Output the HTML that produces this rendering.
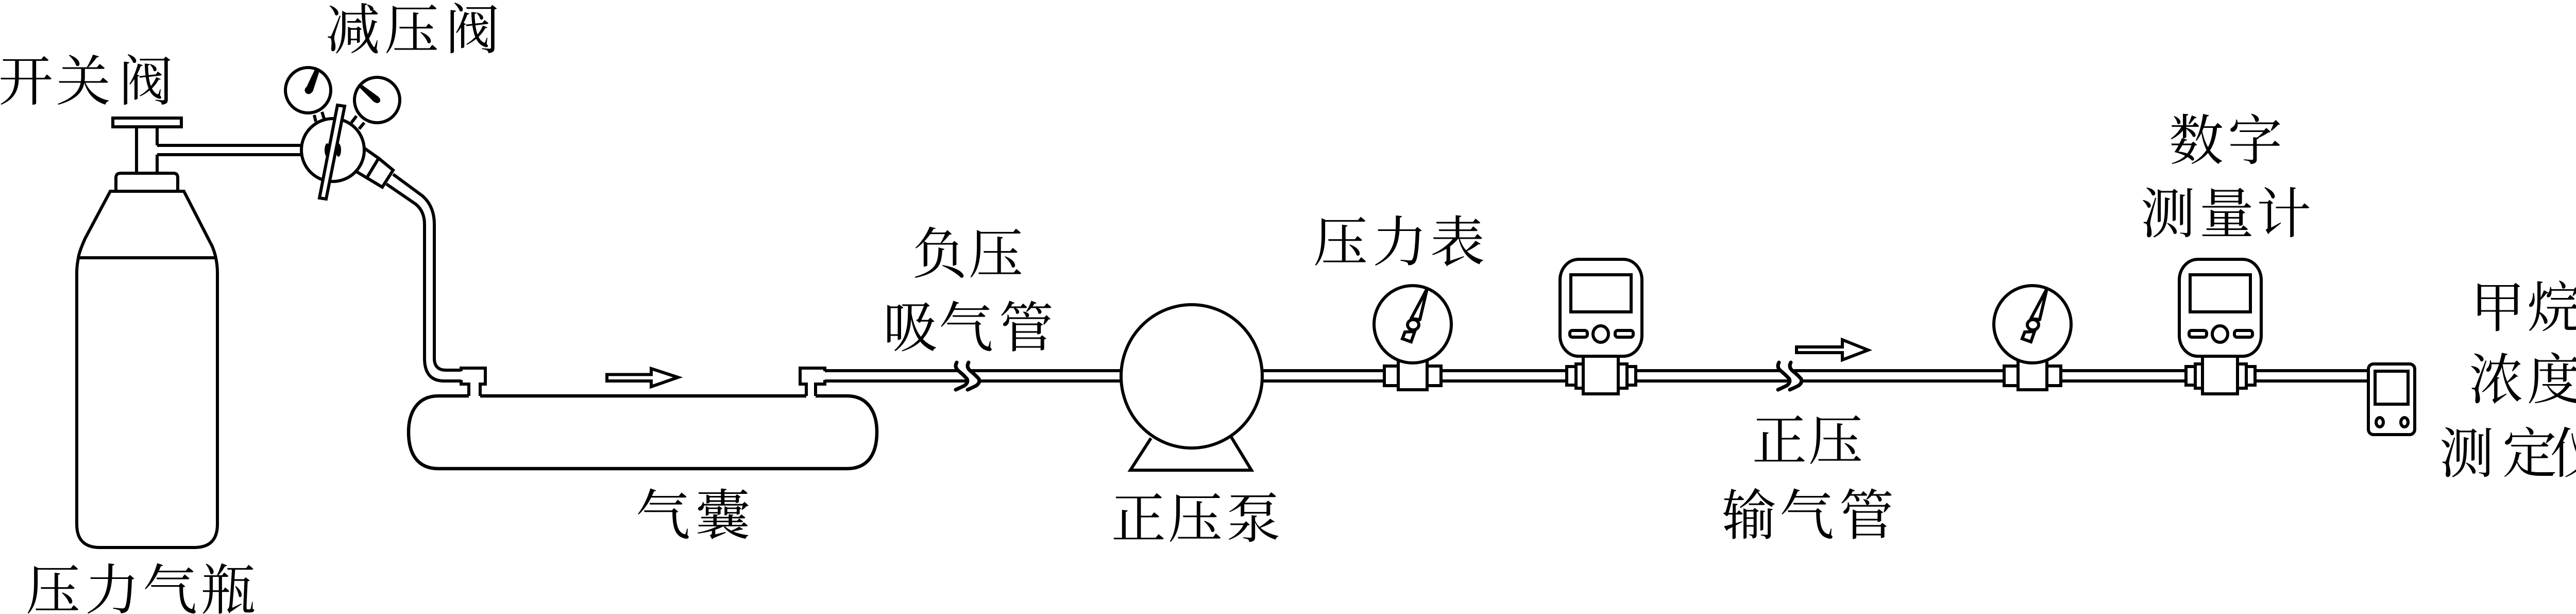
<!DOCTYPE html>
<html lang="zh">
<head>
<meta charset="utf-8">
<title>气路示意图</title>
<style>
html,body{margin:0;padding:0;background:#fff;}
svg{display:block;}
text{font-family:"Liberation Serif","Noto Serif CJK SC",serif;font-size:106px;fill:#000;}
.s{fill:none;stroke:#000;stroke-width:6;}
.w{fill:#fff;stroke:#000;stroke-width:6;}
.b{fill:#000;stroke:none;}
</style>
</head>
<body>
<svg xmlns="http://www.w3.org/2000/svg" width="5057" height="1191" viewBox="0 0 5057 1191">
<rect width="5057" height="1191" fill="#fff"/>

<defs>
<g id="gauge">
  <rect class="w" x="2687" y="710" width="110" height="38"/>
  <rect class="w" x="2714" y="695" width="56" height="61"/>
  <ellipse class="w" cx="2742" cy="629" rx="75" ry="75"/>
  <polygon class="w" stroke-linejoin="round" points="2770,560 2739,618 2756,620"/>
  <polygon class="w" points="2727,644 2722,657 2739,663 2746,643"/>
  <ellipse class="w" cx="2743" cy="630" rx="11" ry="10"/>
</g>
<g id="meter">
  <rect class="w" x="3041" y="711" width="134" height="36"/>
  <rect class="w" x="3059" y="706" width="99" height="47"/>
  <rect class="w" x="3073" y="688" width="68" height="76"/>
  <rect class="w" x="3028" y="503" width="159" height="188" rx="36" ry="40"/>
  <rect class="w" x="3049" y="533" width="117" height="72"/>
  <rect class="w" x="3047" y="641" width="34" height="13" rx="5"/>
  <ellipse class="w" cx="3107" cy="648" rx="15" ry="16"/>
  <rect class="w" x="3135" y="641" width="35" height="13" rx="5"/>
</g>
<g id="brk">
  <polygon fill="#fff" points="1856,712 1879,712 1902,737 1879,757 1856,757 1878,737"/>
  <path class="s" style="stroke-width:7" stroke-linecap="round" d="M1857 703 Q1852 712 1860 719 Q1870 727 1877 735 Q1880 742 1872 748 Q1864 752 1855 756"/>
  <path class="s" style="stroke-width:7" stroke-linecap="round" d="M1880 703 Q1875 712 1883 719 Q1893 727 1900 735 Q1903 742 1895 748 Q1887 752 1878 756"/>
</g>
</defs>

<!-- cylinder -->
<path class="s" d="M265 249V335M305 249V282M305 300V335"/>
<path class="s" d="M305 282H590M305 300H590"/>
<rect class="w" x="219" y="229" width="133" height="17"/>
<path class="s" d="M225 371V345Q225 336 234 336H337Q345 336 345 345V371"/>
<path class="s" d="M214 371L165 463Q153 490 152 501Q149 515 149 530V1017Q149 1062 194 1062H377Q422 1062 422 1017V530Q422 515 419 501Q417 490 412 478L357 371Z"/>
<path class="s" d="M152 500H419"/>

<!-- reducing valve -->
<path class="s" d="M610 223L613 236M625 217L629 230"/>
<path class="s" d="M692 225L682 238M707 238L697 250"/>
<circle class="w" cx="598" cy="175" r="44"/>
<circle class="w" cx="732" cy="194" r="44"/>
<polygon class="b" points="611,135 620,138 607,178 592,175"/>
<circle class="b" cx="599" cy="175" r="7.5"/>
<polygon class="b" points="702,164 735,188 738,198 726,198 698,170"/>
<circle class="b" cx="732" cy="194" r="6"/>
<path class="s" d="M763 338L820 380Q843 400 843 435V695Q843 718 866 718H895"/>
<path class="s" d="M750 357L807 396Q824 410 824 435V695Q824 739 862 739H895"/>
<polygon class="w" points="708,288 735,307 712,345 692,333"/>
<polygon class="w" points="735,307 763,330 742,363 712,345"/>
<circle class="w" cx="646" cy="291" r="61"/>
<ellipse class="b" cx="635" cy="291" rx="5" ry="13"/>
<ellipse class="b" cx="657" cy="291" rx="5" ry="13"/>
<polygon class="w" points="655,204 669,206 633,386 620,384"/>

<!-- gas bag -->
<path class="s" style="stroke-width:6.5" d="M910 768H851C810 768 793 800 793 838C793 880 810 909 851 909H1644C1685 909 1702 880 1702 838C1702 800 1685 768 1644 768H1583M1565 768H932"/>
<path class="s" d="M910 768V745H895V737M895 720V714H942V745H932V768"/>
<path class="s" d="M1565 768V745H1553V714H1601V720M1601 737V745H1583V768"/>
<path class="w" stroke-linejoin="miter" d="M1178 726.500H1264V715L1316 732L1264 750V739H1178Z"/>

<!-- main pipe -->
<path class="s" d="M1601 719H4597M1601 739H4597"/>
<use href="#brk"/>
<use href="#brk" x="1596"/>

<!-- pump -->
<path class="s" d="M2234 850L2194 912H2429L2390 848"/>
<ellipse class="w" cx="2313" cy="730" rx="137" ry="139"/>

<!-- instruments -->
<use href="#gauge"/>
<use href="#gauge" x="1203"/>
<use href="#meter"/>
<use href="#meter" x="1202"/>

<!-- arrow 2 -->
<path class="w" d="M3487 673H3576V659L3626 679L3576 698V684H3487Z"/>

<!-- methane device -->
<rect class="w" x="4597" y="706" width="90" height="137" rx="10"/>
<rect class="w" x="4610" y="720" width="64" height="64"/>
<ellipse class="w" cx="4619" cy="819" rx="7" ry="9"/>
<ellipse class="w" cx="4667" cy="819" rx="7" ry="9"/>

<!-- labels -->
<text x="-3 109 230" y="195">开关阀</text>
<text x="632 746 864" y="95">减压阀</text>
<text x="50 165 277 390" y="1182">压力气瓶</text>
<text x="1234 1350" y="1037">气囊</text>
<text x="1771 1880" y="530">负压</text>
<text x="1714 1822 1939" y="673">吸气管</text>
<text x="2549 2664 2776" y="507">压力表</text>
<text x="2157 2267 2380" y="1043">正压泵</text>
<text x="3401 3510" y="892">正压</text>
<text x="3342 3454 3570" y="1037">输气管</text>
<text x="4210 4324" y="310">数字</text>
<text x="4155 4269 4380" y="452">测量计</text>
<text x="4795 4905" y="634">甲烷</text>
<text x="4792 4905" y="774">浓度</text>
<text x="4735 4857 4950" y="917">测定仪</text>
</svg>
</body>
</html>
